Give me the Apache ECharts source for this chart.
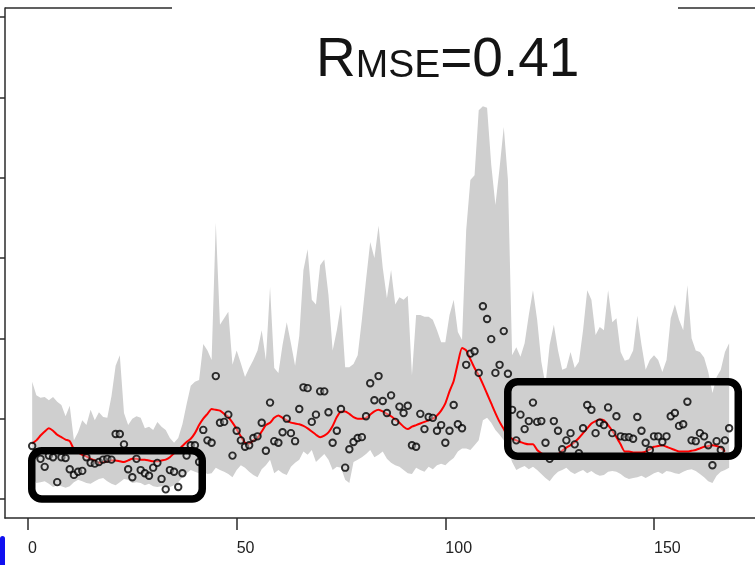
<!DOCTYPE html>
<html>
<head>
<meta charset="utf-8">
<script src="https://cdn.jsdelivr.net/npm/echarts@6/dist/echarts.min.js"></script>
<style>
  html, body { margin: 0; padding: 0; background: #fff; }
  #chart { width: 755px; height: 565px; }
</style>
</head>
<body>
<div id="chart"></div>
<script>
// Observed series (one value per time step, starting at t = 1)
const observed = [
  0.66,0.58,0.50,0.40,0.54,0.52,0.21,0.52,0.51,0.37,
  0.30,0.34,0.35,0.52,0.45,0.44,0.46,0.49,0.50,0.49,
  0.81,0.81,0.68,0.37,0.27,0.50,0.36,0.32,0.29,0.39,
  0.45,0.25,0.12,0.36,0.34,0.15,0.32,0.54,0.67,0.67,
  0.46,0.86,0.73,0.70,1.53,0.95,0.96,1.05,0.54,0.85,
  0.73,0.65,0.67,0.76,0.78,0.95,0.60,1.20,0.72,0.70,
  0.83,1.00,0.82,0.72,1.12,1.39,1.38,0.96,1.05,1.34,
  1.34,1.08,0.70,0.85,1.12,0.39,0.62,0.71,0.76,0.77,
  1.03,1.44,1.23,1.53,1.22,1.07,1.29,0.96,1.15,1.07,
  1.16,0.67,0.65,1.06,0.87,1.02,1.01,0.85,0.92,0.70,
  0.85,1.17,0.93,0.88,1.67,1.81,1.84,1.57,2.40,2.24,
  1.99,1.57,1.67,2.09,1.56,1.11,0.73,1.05,0.87,0.97,
  1.20,0.96,0.97,0.70,0.50,0.97,0.85,0.62,0.73,0.82,
  0.68,0.57,0.88,1.17,1.11,0.82,0.95,0.92,1.14,0.82,
  1.03,0.78,0.77,0.77,0.75,1.02,0.85,0.70,0.61,0.78,
  0.78,0.71,0.78,1.03,1.07,0.91,0.93,1.21,0.73,0.72,
  0.82,0.78,0.67,0.42,0.72,0.61,0.73,0.88
];

// Predictive mean
const predMean = [
  0.69,0.73,0.79,0.84,0.88,0.85,0.80,0.77,0.74,0.72,
  0.62,0.58,0.55,0.53,0.50,0.48,0.45,0.46,0.47,0.48,
  0.48,0.47,0.46,0.48,0.50,0.50,0.49,0.49,0.48,0.47,
  0.47,0.48,0.49,0.52,0.57,0.61,0.66,0.71,0.75,0.82,
  0.92,1.00,1.06,1.12,1.11,1.10,1.06,1.02,0.95,0.87,
  0.78,0.70,0.69,0.73,0.76,0.84,0.92,0.95,1.01,1.04,
  1.01,0.98,0.95,0.94,0.93,0.91,0.88,0.84,0.80,0.77,
  0.79,0.83,0.91,1.02,1.09,1.09,1.06,1.02,1.00,1.00,
  1.01,1.05,1.09,1.11,1.09,1.06,1.03,0.99,0.95,0.90,
  0.87,0.90,0.92,0.94,0.96,0.98,1.00,1.04,1.10,1.19,
  1.34,1.47,1.69,1.88,1.85,1.74,1.63,1.54,1.43,1.31,
  1.19,1.07,0.96,0.87,0.78,0.75,0.73,0.71,0.69,0.68,
  0.68,0.61,0.57,0.54,0.52,0.51,0.55,0.60,0.64,0.67,
  0.71,0.76,0.82,0.88,0.94,0.97,0.99,0.98,0.92,0.85,
  0.77,0.68,0.59,0.59,0.58,0.58,0.58,0.59,0.62,0.65,
  0.66,0.67,0.65,0.63,0.61,0.59,0.59,0.59,0.60,0.61,
  0.63,0.65,0.66,0.67,0.66,0.64,0.59
];

// Prediction interval, upper and lower bounds
const bandUpper = [
  1.46,1.29,1.26,1.27,1.23,1.27,1.21,1.17,1.03,1.16,
  0.73,0.83,0.98,0.92,1.11,0.98,1.08,1.02,1.01,1.28,
  1.66,1.79,1.07,0.92,1.00,1.03,1.01,0.88,0.90,0.86,
  0.96,0.90,0.86,0.76,0.70,0.76,0.93,1.18,1.41,1.46,
  1.48,1.93,1.85,1.73,3.44,2.17,2.25,2.33,1.67,1.85,
  1.69,1.52,1.63,1.73,1.85,2.10,1.73,2.64,1.63,1.57,
  1.92,2.20,1.94,1.66,2.03,2.85,3.11,2.48,2.42,2.91,
  2.98,2.54,1.85,2.10,2.42,1.64,1.64,1.68,1.79,2.23,
  2.73,3.20,3.00,3.40,2.88,2.50,2.85,2.42,2.51,2.48,
  2.53,1.54,2.29,2.29,2.27,2.27,2.23,2.10,1.95,1.95,
  2.29,2.48,2.08,1.98,3.35,3.97,4.03,4.84,4.89,4.87,
  4.16,3.66,4.12,4.63,3.97,1.79,1.89,1.77,1.94,2.29,
  2.60,2.23,1.71,1.42,1.92,2.17,1.85,1.61,1.63,1.83,
  1.63,1.71,2.10,2.60,2.48,2.04,2.14,2.10,2.60,2.20,
  2.25,1.83,1.72,1.74,1.85,2.28,1.92,1.61,1.73,1.79,
  1.73,1.58,1.73,2.25,2.42,2.23,2.10,2.66,2.00,1.85,
  1.83,1.76,1.58,1.32,1.52,1.61,1.83,1.94
];
const bandLower = [
  0.27,0.20,0.21,0.22,0.19,0.15,0.17,0.16,0.14,0.16,
  0.21,0.24,0.22,0.20,0.19,0.22,0.25,0.26,0.22,0.19,
  0.17,0.21,0.25,0.24,0.20,0.21,0.20,0.17,0.19,0.16,
  0.15,0.16,0.14,0.15,0.17,0.21,0.27,0.32,0.36,0.34,
  0.32,0.34,0.31,0.32,0.39,0.36,0.34,0.31,0.27,0.36,
  0.42,0.39,0.34,0.30,0.27,0.37,0.42,0.49,0.32,0.36,
  0.32,0.30,0.40,0.45,0.49,0.59,0.55,0.61,0.46,0.51,
  0.56,0.49,0.36,0.40,0.39,0.24,0.20,0.46,0.49,0.52,
  0.56,0.61,0.52,0.55,0.59,0.50,0.45,0.42,0.40,0.36,
  0.32,0.31,0.39,0.36,0.34,0.40,0.37,0.42,0.44,0.42,
  0.47,0.51,0.59,0.63,0.63,0.61,0.67,0.73,0.98,1.01,
  0.95,0.86,0.80,0.73,0.61,0.46,0.36,0.39,0.41,0.37,
  0.40,0.36,0.31,0.26,0.22,0.29,0.34,0.36,0.39,0.34,
  0.31,0.34,0.36,0.32,0.35,0.31,0.29,0.30,0.34,0.35,
  0.34,0.31,0.27,0.25,0.26,0.27,0.29,0.26,0.29,0.32,
  0.34,0.31,0.35,0.34,0.32,0.31,0.34,0.36,0.37,0.35,
  0.31,0.27,0.22,0.20,0.29,0.34,0.36,0.39
];

// Axis ticks
const xTicks = [0, 50, 100, 150];
const yTicks = [0, 1, 2, 3, 4, 5, 6];

// Highlighted periods: [tStart, tEnd, yLow, yHigh]
const highlightBoxes = [
  [0.9, 41.75, 0.0, 0.60],
  [114.96, 170.19, 0.532, 1.46]
];

const rmseText = '0.41';

const pairs = arr => arr.map((v, i) => [i + 1, v]);
const bandRows = bandUpper.map((u, i) => [i + 1, bandLower[i], u]);

const chart = echarts.init(document.getElementById('chart'), null, { renderer: 'canvas' });
const FONT = '"Liberation Sans", Arial, Helvetica, sans-serif';
const AXIS_COLOR = '#2b2b2b';

// Shaded interval: one polygon going along the upper bound and back along the lower bound
function renderBand(params, api) {
  if (params.dataIndex !== 0) return null;
  const top = [], bottom = [];
  for (let i = 0; i < bandRows.length; i++) {
    top.push(api.coord([bandRows[i][0], bandRows[i][2]]));
    bottom.push(api.coord([bandRows[i][0], bandRows[i][1]]));
  }
  return {
    type: 'polygon',
    shape: { points: top.concat(bottom.reverse()) },
    style: { fill: '#cfcfcf', stroke: null }
  };
}

chart.setOption({
  animation: false,
  backgroundColor: '#ffffff',
  title: {
    text: '{a|R}{b|MSE}{a|=' + rmseText + '}',
    left: 316,
    top: 33,
    padding: 0,
    textStyle: {
      fontWeight: 'normal',
      rich: {
        a: { fontFamily: FONT, fontSize: 55, fontWeight: 'normal', lineHeight: 55, color: '#141414', verticalAlign: 'bottom' },
        b: { fontFamily: FONT, fontSize: 39, fontWeight: 'normal', lineHeight: 39, color: '#141414', verticalAlign: 'bottom', padding: [0, 0, 2, 0] }
      }
    }
  },
  grid: { left: 5, right: 0, top: 8, bottom: 47, containLabel: false },
  xAxis: {
    type: 'value',
    min: -5.51,
    max: 174.2,
    splitLine: { show: false },
    axisLine: { show: true, onZero: false, lineStyle: { color: AXIS_COLOR, width: 1.5 } },
    axisTick: { show: true, length: 12, customValues: xTicks, lineStyle: { color: AXIS_COLOR, width: 1.5 } },
    axisLabel: {
      show: true, customValues: xTicks, margin: 23, align: 'left',
      fontFamily: FONT, fontSize: 16, color: '#222'
    }
  },
  yAxis: {
    type: 'value',
    min: -0.2365,
    max: 6.112,
    splitLine: { show: false },
    axisLine: { show: true, onZero: false, lineStyle: { color: AXIS_COLOR, width: 1.5 } },
    axisTick: { show: true, length: 5, customValues: yTicks, lineStyle: { color: AXIS_COLOR, width: 1.5 } },
    axisLabel: { show: false }
  },
  series: [
    {
      name: 'interval', type: 'custom', data: bandRows, renderItem: renderBand,
      encode: { x: 0, y: [1, 2] }, silent: true, z: 1
    },
    {
      name: 'mean', type: 'line', data: pairs(predMean),
      symbol: 'none', smooth: 0.2, lineStyle: { color: '#ff0000', width: 2 }, z: 3
    },
    {
      name: 'observed', type: 'scatter', data: pairs(observed),
      symbol: 'circle', symbolSize: 6.5,
      itemStyle: { color: 'rgba(225,225,225,0.5)', borderColor: '#000', borderWidth: 1.9 }, z: 4
    }
  ]
});

// Rounded highlight boxes placed through the axis scales
const boxGraphics = highlightBoxes.map(([t0, t1, y0, y1]) => {
  const p0 = chart.convertToPixel({ gridIndex: 0 }, [t0, y1]);
  const p1 = chart.convertToPixel({ gridIndex: 0 }, [t1, y0]);
  return {
    type: 'rect', z: 100,
    shape: { x: p0[0], y: p0[1], width: p1[0] - p0[0], height: p1[1] - p0[1], r: 10 },
    style: { fill: null, stroke: '#000', lineWidth: 7.5 }
  };
});

chart.setOption({
  graphic: [
    // upper frame segments
    { type: 'line', z: 50, shape: { x1: 5, y1: 8, x2: 172, y2: 8 }, style: { stroke: AXIS_COLOR, lineWidth: 1.5 } },
    { type: 'line', z: 50, shape: { x1: 678, y1: 8, x2: 755, y2: 8 }, style: { stroke: AXIS_COLOR, lineWidth: 1.5 } },
    // small blue marker at the lower-left corner
    { type: 'rect', z: 50, shape: { x: 0, y: 536, width: 5, height: 29, r: [3, 3, 0, 0] }, style: { fill: '#1010f0' } },
    ...boxGraphics
  ]
});
</script>
</body>
</html>
